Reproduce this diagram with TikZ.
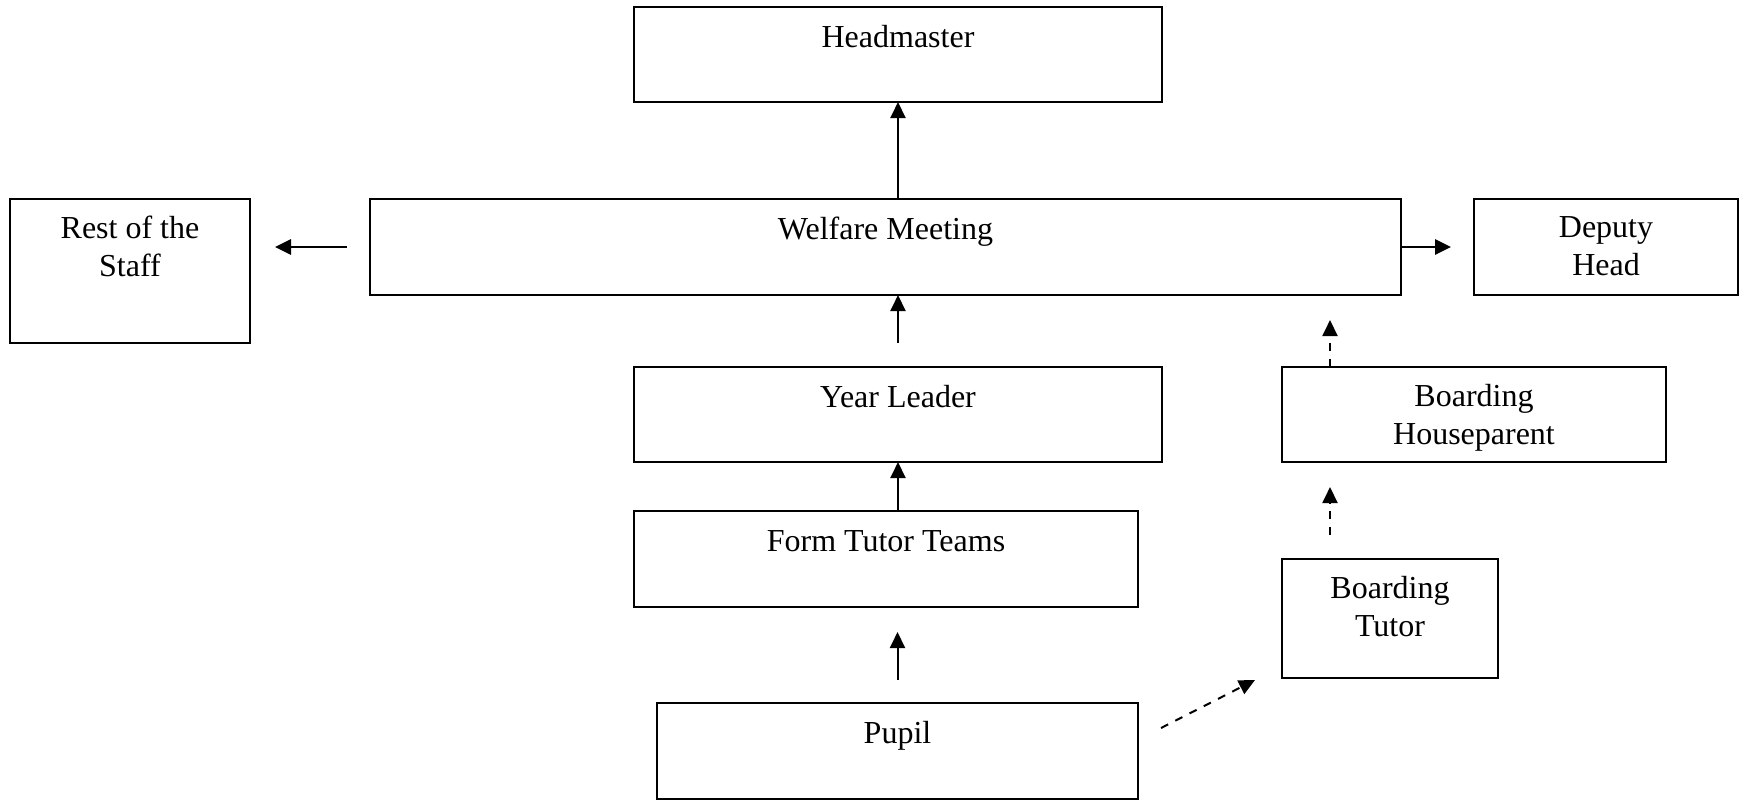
\documentclass[tikz,border=0pt]{standalone}
\usepackage{fontspec}
\setmainfont{Liberation Serif}
\usetikzlibrary{arrows.meta,calc}
\begin{document}
\begin{tikzpicture}[x=0.5pt,y=-0.5pt,
  box/.style={draw,line width=1.2pt,inner sep=0pt,outer sep=0pt,anchor=north west},
  lbl/.style={font=\fontsize{16}{19}\selectfont,inner sep=0pt,align=center},
  arr/.style={line width=1pt,-{Triangle[length=8pt,width=7.5pt]}},
  harr/.style={line width=1.4pt,-{Triangle[length=8pt,width=7.5pt]}},
  darr/.style={line width=1pt,dash pattern=on 4pt off 4pt,-{Triangle[length=8pt,width=7.5pt]}}]
\useasboundingbox (0,0) rectangle (1744,800);
% boxes
\node[box,minimum width=264pt,minimum height=47.5pt] (hm) at (634,7) {};
\node[box,minimum width=515.5pt,minimum height=48pt] (wm) at (370,199) {};
\node[box,minimum width=120pt,minimum height=72pt] (rs) at (10,199) {};
\node[box,minimum width=132pt,minimum height=48pt] (dh) at (1474,199) {};
\node[box,minimum width=264pt,minimum height=47.5pt] (yl) at (634,367) {};
\node[box,minimum width=192pt,minimum height=47.5pt] (bh) at (1282,367) {};
\node[box,minimum width=252pt,minimum height=48pt] (ft) at (634,511) {};
\node[box,minimum width=108pt,minimum height=59.5pt] (bt) at (1282,559) {};
\node[box,minimum width=240.5pt,minimum height=48pt] (pu) at (657,703) {};
% labels
\node[lbl,anchor=base] at ($(hm.north)+(0,40)$) {Headmaster};
\node[lbl,anchor=base] at ($(wm.north)+(0,40)$) {Welfare Meeting};
\node[lbl,anchor=north] at ($(rs.north)+(0,17)$) {Rest of the\\Staff};
\node[lbl,anchor=north] at ($(dh.north)+(0,17)$) {Deputy\\Head};
\node[lbl,anchor=base] at ($(yl.north)+(0,40)$) {Year Leader};
\node[lbl,anchor=north] at ($(bh.north)+(0,17)$) {Boarding\\Houseparent};
\node[lbl,anchor=base] at ($(ft.north)+(0,40)$) {Form Tutor Teams};
\node[lbl,anchor=north] at ($(bt.north)+(0,17)$) {Boarding\\Tutor};
\node[lbl,anchor=base] at ($(pu.north)+(0,40)$) {Pupil};
% connectors
\draw[arr] (hm.south |- wm.north) -- (hm.south);
\draw[harr,shorten <=11.5pt,shorten >=12.5pt] (wm.west) -- (wm.west -| rs.east);
\draw[harr,shorten >=11.5pt] (wm.east) -- (wm.east -| dh.west);
\draw[arr,shorten <=12pt] (yl.north) -- (yl.north |- wm.south);
\coordinate (bhx) at ($(bh.north west)+(48,0)$);
\draw[darr,shorten >=12.5pt] (bhx) -- (bhx |- wm.south);
\draw[arr] (yl.south |- ft.north) -- (yl.south);
\draw[darr,shorten <=12pt,shorten >=12.5pt] (bhx |- bt.north) -- (bhx |- bh.south);
\draw[arr,shorten <=11.5pt,shorten >=12.5pt] (pu.north) -- (pu.north |- ft.south);
\draw[darr] ($(pu.north east)+(23,25)$) -- ($(bt.south west)+(-27,2)$);
\end{tikzpicture}
\end{document}
